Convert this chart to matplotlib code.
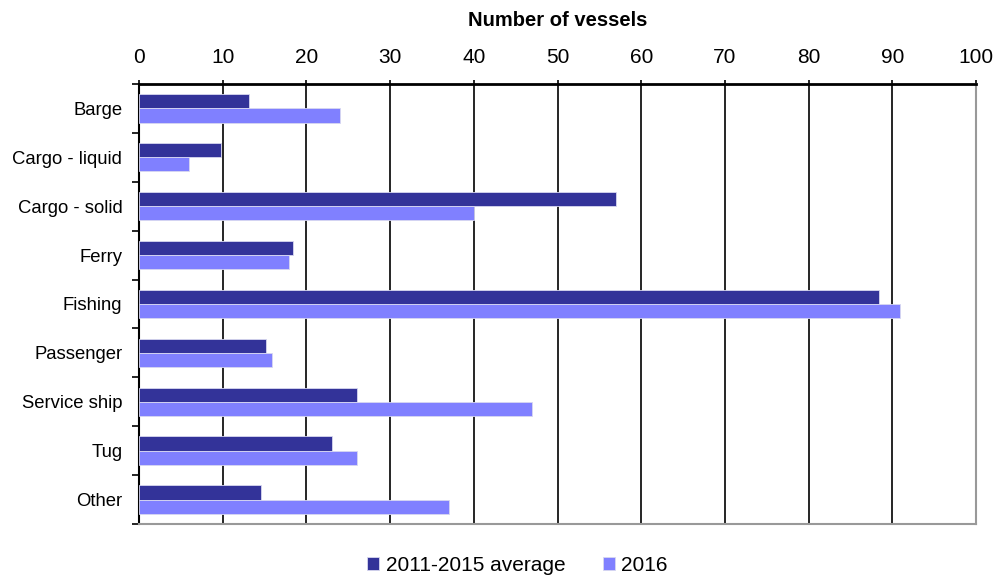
import numpy as np
import matplotlib
matplotlib.use("Agg")
import matplotlib.pyplot as plt

plt.rcParams['font.family'] = ['Liberation Sans', 'DejaVu Sans']

categories = ["Barge", "Cargo - liquid", "Cargo - solid", "Ferry", "Fishing",
              "Passenger", "Service ship", "Tug", "Other"]
avg_2011_2015 = [13.1, 9.8, 57.0, 18.4, 88.4, 15.2, 26.1, 23.0, 14.6]
year_2016 = [24.0, 6.0, 40.0, 17.9, 90.9, 15.9, 46.9, 26.0, 37.0]


def main():
    fig = plt.figure(figsize=(10.01, 5.76), dpi=100)
    ax = fig.add_axes([0.1389, 0.0903, 0.975 - 0.1389, 0.8542 - 0.0903])

    y = np.arange(len(categories))
    h = 0.29
    ax.barh(y - h / 2, avg_2011_2015, height=h, color="#333399",
            edgecolor="#d8d8f0", linewidth=0.6, label="2011-2015 average", zorder=3)
    ax.barh(y + h / 2, year_2016, height=h, color="#8080ff",
            edgecolor="#d8d8f0", linewidth=0.6, label="2016", zorder=3)

    ax.set_xlim(0, 100)
    ax.set_ylim(len(categories) - 0.5, -0.5)
    ax.xaxis.tick_top()
    ax.xaxis.set_label_position("top")
    ax.set_xticks(np.arange(0, 101, 10))
    ax.set_xlabel("Number of vessels", fontsize=14.5, fontweight="bold", labelpad=16)
    ax.grid(axis="x", color="black", linewidth=1.2, zorder=1)

    ax.set_yticks(y)
    ax.set_yticklabels(categories)
    ax.set_yticks(np.arange(-0.5, len(categories) + 0.5, 1), minor=True)
    ax.tick_params(axis="y", which="major", length=0, pad=12, labelsize=13.3)
    ax.tick_params(axis="y", which="minor", length=5, width=1.2, color="black")
    ax.tick_params(axis="x", length=3, width=1.2, labelsize=15, pad=9)

    ax.spines["top"].set_linewidth(2)
    ax.spines["left"].set_linewidth(1.5)
    ax.spines["bottom"].set_color("#999999")
    ax.spines["bottom"].set_linewidth(1.5)
    ax.spines["right"].set_color("#999999")
    ax.spines["right"].set_linewidth(1.5)

    ax.legend(loc="upper center", bbox_to_anchor=(0.452, -0.039), ncol=2,
              frameon=False, fontsize=15, handlelength=0.6, handleheight=0.6,
              handletextpad=0.3, columnspacing=1.8, borderpad=0.2)

    fig.savefig("out.png", dpi=100)


if __name__ == "__main__":
    main()
